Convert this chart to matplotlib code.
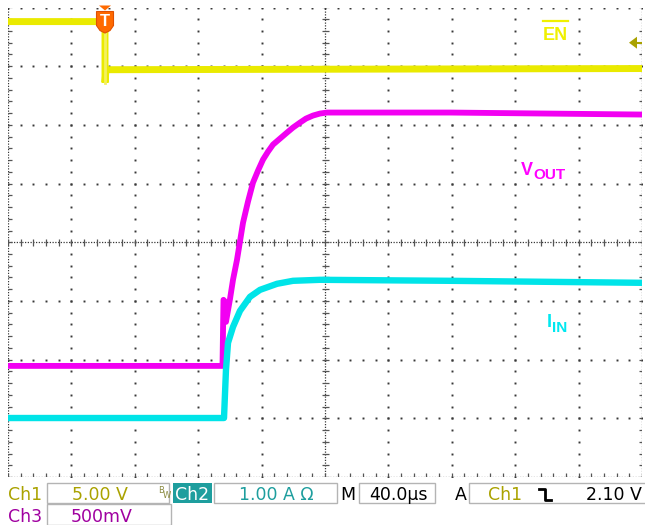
import matplotlib
matplotlib.use("Agg")
import matplotlib.pyplot as plt
import numpy as np
from matplotlib.patches import Polygon, Rectangle
from matplotlib.lines import Line2D
from matplotlib.collections import LineCollection

W, H = 645, 525

# traces, in divisions (10 x 8 graticule, 40 us/div)
en_t = [0.0, 1.53, 1.53, 1.545, 10.0]
en_v = [3.76, 3.76, 2.72, 2.94, 2.96]

vout_t = [0.0, 3.383, 3.399, 3.423, 3.438, 3.502, 3.549, 3.612, 3.707, 3.785, 3.864,
          3.943, 4.022, 4.101, 4.180, 4.290, 4.401, 4.495, 4.606, 4.700, 4.811,
          4.921, 5.032, 6.972, 10.0]
vout_v = [-2.107, -2.107, -0.981, -1.015, -1.357, -0.964, -0.640, -0.299, 0.333, 0.691, 1.015,
          1.220, 1.408, 1.544, 1.664, 1.766, 1.869, 1.954, 2.039, 2.107, 2.159,
          2.193, 2.210, 2.210, 2.176]

iin_t = [0.0, 3.407, 3.438, 3.470, 3.549, 3.659, 3.817, 3.975, 4.243, 4.495, 4.921, 6.972, 10.0]
iin_v = [-2.995, -2.995, -2.176, -1.715, -1.442, -1.169, -0.930, -0.811, -0.708, -0.657,
         -0.640, -0.657, -0.691]

trig_t = 1.53
trig_level = 3.40

EN_C = '#eaea00'
VOUT_C = '#f200f2'
IIN_C = '#00e4e8'
OLIVE = '#aaa200'
TEAL = '#1e9e9e'
PURPLE = '#a000a0'
ORANGE = '#ff6a00'
GRID_C = '#383838'

fig = plt.figure(figsize=(W / 100, H / 100), dpi=100)
fig.patch.set_facecolor('white')
ax = fig.add_axes([8 / W, 48 / H, 634 / W, 469.5 / H])
ax.set_xlim(0, 10)
ax.set_ylim(-4, 4)
ax.axis('off')

px_x = 63.4   # pixels per division
px_y = 58.6


def fx(x):
    return x / W


def fy(y):
    return 1 - y / H


# graticule: sparse dots on major lines
minor_y = np.arange(-4, 4.001, 0.2)
minor_x = np.arange(0, 10.001, 0.2)
for xv in [1, 2, 3, 4, 6, 7, 8, 9]:
    ax.plot(np.full_like(minor_y, xv), minor_y, ls='none', marker='s', ms=1.4,
            mec='none', mfc=GRID_C, zorder=1)
for yv in [-3, -2, -1, 1, 2, 3, 4]:
    ax.plot(minor_x, np.full_like(minor_x, yv), ls='none', marker='s', ms=1.4,
            mec='none', mfc=GRID_C, zorder=1)

# dense lines: edges and center crosshair
for xv in [0, 5, 10]:
    ax.plot([xv, xv], [-4, 4], color=GRID_C, lw=0.9, ls=(0, (1, 1.2)), zorder=1)
for yv in [-4, 0]:
    ax.plot([0, 10], [yv, yv], color=GRID_C, lw=0.9, ls=(0, (1, 1.2)), zorder=1)

segs = []
tx = 3.5 / px_x
ty = 3.5 / px_y
for yv in minor_y:
    segs.append([(5 - tx, yv), (5 + tx, yv)])
    segs.append([(0, yv), (tx, yv)])
    segs.append([(10 - tx, yv), (10, yv)])
for xv in minor_x:
    segs.append([(xv, -ty), (xv, ty)])
    segs.append([(xv, -4), (xv, -4 + ty)])
ax.add_collection(LineCollection(segs, colors='#555555', linewidths=0.9, zorder=1))

# traces
ax.plot(en_t, en_v, color=EN_C, lw=5, solid_joinstyle='miter', zorder=3)
ax.plot([trig_t, trig_t], [en_v[1], en_v[2]], color='#f4f060', lw=2, zorder=3)
ax.plot(vout_t, vout_v, color=VOUT_C, lw=4.2, zorder=3)
ax.plot(iin_t, iin_v, color=IIN_C, lw=4.6, zorder=3)

# trigger position marker
cx = trig_t
top = 4 - (11.5 - 7.5) / px_y
shield = [(-8.5, 0), (8.5, 0), (8.5, 14), (5, 19), (0, 21.5), (-5, 19), (-8.5, 14)]
ax.add_patch(Polygon([(cx + dx / px_x, top - dy / px_y) for dx, dy in shield],
                     closed=True, fc=ORANGE, ec='#e05000', lw=0.8, zorder=5, clip_on=False))
tri = [(-6, 0), (6, 0), (0, 5)]
ax.add_patch(Polygon([(cx + dx / px_x, 4 + 2 / px_y - dy / px_y) for dx, dy in tri],
                     closed=True, fc=ORANGE, ec='none', zorder=5, clip_on=False))
ax.text(cx, top - 10 / px_y, 'T', color='white', fontsize=12, fontweight='bold',
        ha='center', va='center', family='Liberation Sans', zorder=6)

# trigger level arrow
ay = trig_level
arrow = [(0, 0), (8, 6), (8, -6)]
ax.add_patch(Polygon([(10 - 13 / px_x + dx / px_x, ay + dy / px_y) for dx, dy in arrow],
                     closed=True, fc=OLIVE, ec='none', zorder=5, clip_on=False))
ax.plot([10 - 5 / px_x, 10], [ay, ay], color=OLIVE, lw=1.5, zorder=5)

# channel labels
lab = dict(family='Liberation Sans', fontweight='bold', ha='left', va='baseline')
fig.text(fx(543), fy(40), 'EN', color='#f0f000', fontsize=13, **lab)
fig.add_artist(Line2D([fx(543), fx(568)], [fy(21), fy(21)], color='#f0f000', lw=1.6))
fig.text(fx(521), fy(175), 'V', color='#ff00ff', fontsize=13, **lab)
fig.text(fx(533), fy(179), 'OUT', color='#ff00ff', fontsize=11, **lab)
fig.text(fx(547), fy(327), 'I', color='#00e8f0', fontsize=13, **lab)
fig.text(fx(552), fy(332), 'IN', color='#00e8f0', fontsize=11, **lab)

# status bar
st = dict(family='DejaVu Sans', fontsize=12.5, va='baseline')
box_c = '#b4b4b4'
for x0, x1, y0, y1 in [(47, 169, 483, 503), (214, 337, 483, 503), (359, 435, 483, 503),
                       (469, 660, 483, 503), (47, 171, 504, 525)]:
    fig.add_artist(Rectangle((fx(x0), fy(y1)), (x1 - x0) / W, (y1 - y0) / H,
                             transform=fig.transFigure, fc='none', ec=box_c, lw=1))
fig.add_artist(Rectangle((fx(173), fy(503)), 39 / W, 20 / H, transform=fig.transFigure,
                         fc=TEAL, ec='none'))

fig.text(fx(8), fy(500), 'Ch1', color=OLIVE, ha='left', **st)
fig.text(fx(100), fy(500), '5.00 V', color=OLIVE, ha='center', **st)
fig.text(fx(158), fy(493), 'B', color='#8a8a40', fontsize=6, ha='left', va='baseline')
fig.text(fx(163), fy(498), 'W', color='#8a8a40', fontsize=6, ha='left', va='baseline')
fig.text(fx(192.5), fy(500), 'Ch2', color='white', ha='center', **st)
fig.text(fx(276), fy(500), '1.00 A Ω', color=TEAL, ha='center', **st)
fig.text(fx(348), fy(500), 'M', color='black', ha='center', **st)
fig.text(fx(398), fy(500), '40.0µs', color='black', ha='center', **st)
fig.text(fx(461), fy(500), 'A', color='black', ha='center', **st)
fig.text(fx(505), fy(500), 'Ch1', color=OLIVE, ha='center', **st)
fig.add_artist(Line2D([fx(539), fx(545), fx(545), fx(551)],
                      [fy(489), fy(489), fy(500), fy(500)], color='black', lw=2))
fig.text(fx(614), fy(500), '2.10 V', color='black', ha='center', **st)
fig.text(fx(8), fy(522), 'Ch3', color=PURPLE, ha='left', **st)
fig.text(fx(102), fy(522), '500mV', color=PURPLE, ha='center', **st)

fig.savefig('out.png', dpi=100, facecolor='white')
